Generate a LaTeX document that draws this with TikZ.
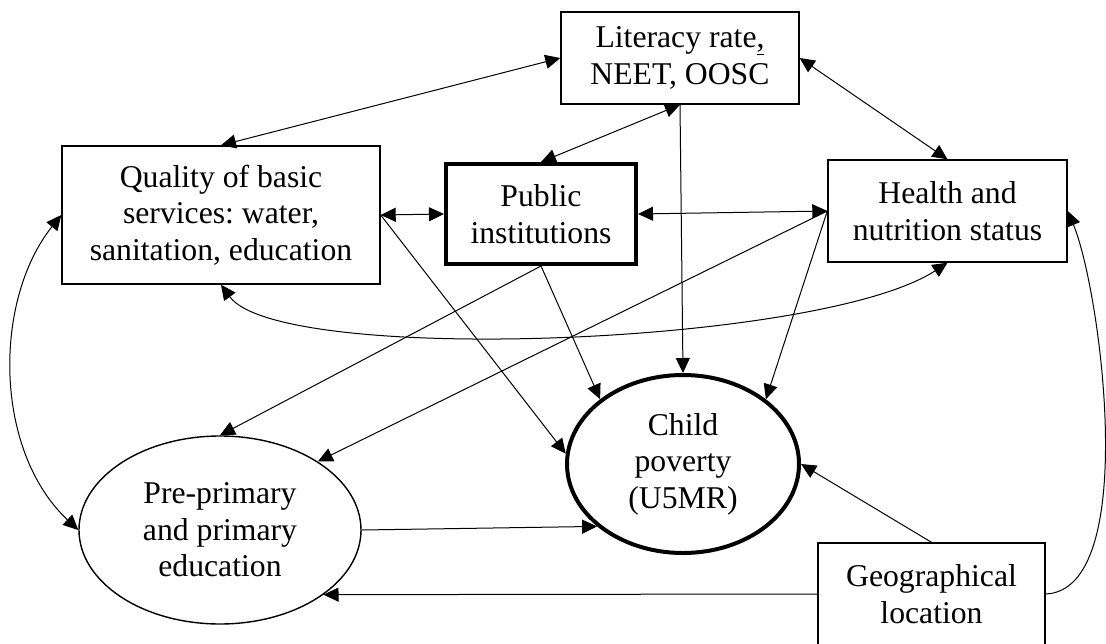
\documentclass[tikz,border=0pt]{standalone}
\usepackage{fontspec}
\setmainfont{Liberation Serif}
\usetikzlibrary{arrows.meta,shapes.geometric}
\frenchspacing

\begin{document}
\begin{tikzpicture}[x=1pt,y=-1pt,>={Triangle[length=15pt,width=14pt]},line width=1pt]
		\useasboundingbox (0,0) rectangle (1106,643);
		\begin{scope}
		
		\tikzstyle{mybox}=[rectangle,
		draw=black,
		line width=1.4pt,
		inner sep=0pt,
		align=center,
		font=\fontsize{31.7}{36.5}\selectfont
		]
		\tikzstyle{myellipse}=[ellipse,
		draw=black,
		line width=1.4pt,
		inner sep=0pt,
		align=center,
		font=\fontsize{31.7}{36.5}\selectfont
		]
		
		\coordinate (plit) at (680, 58);
		\coordinate (pqual) at (221, 215);
		\coordinate (ppub) at (541, 214);
		\coordinate (phealth) at (947.5, 211);
		\coordinate (pchild) at (683, 464);
		\coordinate (ppre) at (220, 530);
		\coordinate (pgeo) at (931.5, 594);
		
		
		\node[mybox, minimum width=238pt, minimum height=92pt] (lit) at (plit) {Literacy rate\underline{,}\\NEET, OOSC};
		\node[mybox, minimum width=318pt, minimum height=138pt] (qual) at (pqual) {Quality of basic\\services: water,\\sanitation, education};
		\node[mybox, line width=4pt, minimum width=190pt, minimum height=100pt] (pub) at (ppub) {Public\\institutions};
		\node[mybox, minimum width=239pt, minimum height=102pt] (health) at (phealth) {Health and\\nutrition status};
		\node[myellipse, line width=4pt, minimum width=232pt, minimum height=178pt] (child) at (pchild) {Child\\poverty\\(U5MR)};
		\node[myellipse, minimum width=282pt, minimum height=188pt] (pre) at (ppre) {Pre-primary\\and primary\\education};
		\node[mybox, minimum width=227pt, minimum height=102pt] (geo) at (pgeo) {Geographical\\location};
		
		\draw[<->] (lit.west) -- (qual.north);
		\draw[<->] (lit.south) -- (pub.north);
		\draw[<->] (lit.east) -- (health.north);
		\draw[->] (lit.south) -- (child.north);
		\draw[<->] (qual.east) -- (pub.west);
		\draw[<->] (pub.east) -- (health.west);
		\draw[->] (qual.east) -- (child.175);
		\draw[->] (pub.south) -- (pre.north);
		\draw[->] (pub.south) -- (child.142);
		\draw[->] (health.west) -- (pre.35);
		\draw[->] (health.west) -- (child.38);
		\draw[->] (pre.east) -- (child.216);
		\draw[->] (geo.north) -- (child.east);
		\draw[->] (geo.west) -- (pre.-32);
		\draw[->] (geo.east) .. controls +(95,-4) and +(33,79) .. (health.east);
		\draw[<->] (qual.west) .. controls +(-68,85) and +(-85,-80) .. (pre.west);
		\draw[<->] (qual.south) .. controls +(59,81) and +(-127,83) .. (health.south);
		
		\end{scope}
		\end{tikzpicture}
\end{document}
